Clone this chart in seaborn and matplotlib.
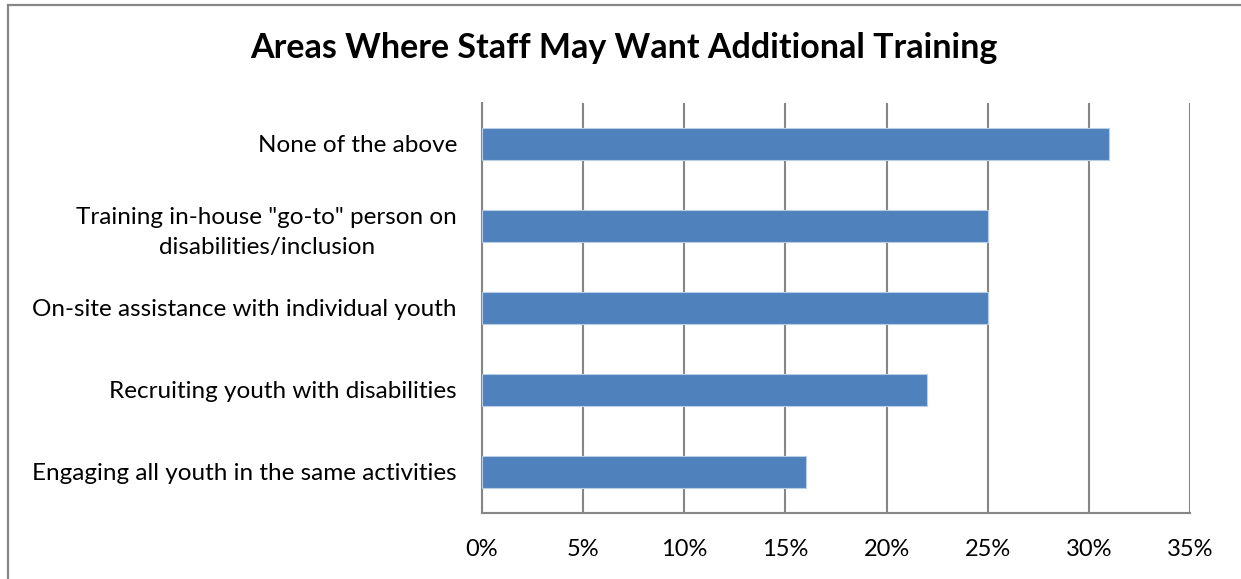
import matplotlib
matplotlib.use("Agg")
import matplotlib.pyplot as plt
import matplotlib.patches as mpatches
from matplotlib.ticker import FuncFormatter
import seaborn as sns
import pandas as pd

categories = [
    "None of the above",
    "Training in-house \"go-to\" person on\ndisabilities/inclusion",
    "On-site assistance with individual youth",
    "Recruiting youth with disabilities",
    "Engaging all youth in the same activities",
]
shares = [31, 25, 25, 22, 16]
x_ticks = [0, 5, 10, 15, 20, 25, 30, 35]
title = "Areas Where Staff May Want Additional Training"

sns.set_theme(style="white")
plt.rcParams["font.family"] = ["Lato", "DejaVu Sans"]

df = pd.DataFrame({"area": categories, "share": shares})

fig = plt.figure(figsize=(12.41, 5.79), dpi=100)
ax = fig.add_axes([482 / 1241, 1 - 513 / 579, (1190 - 482) / 1241, (513 - 103) / 579])

grid_col = "#868686"
sns.barplot(data=df, x="share", y="area", orient="h", color="#4F81BD",
            saturation=1, width=0.39, edgecolor="#B9CDE5", linewidth=0.8, ax=ax, zorder=3)

ax.set_xlim(0, 35)
ax.set_xticks(x_ticks)
ax.xaxis.set_major_formatter(FuncFormatter(lambda v, p: f"{v:.0f}%"))
ax.grid(axis="x", color=grid_col, linewidth=1.5, zorder=0)
ax.set_xlabel("")
ax.set_ylabel("")
for side in ["top", "right"]:
    ax.spines[side].set_visible(False)
for side in ["left", "bottom"]:
    ax.spines[side].set_color(grid_col)
    ax.spines[side].set_linewidth(1.5)
ax.tick_params(axis="both", length=0, colors="#000000")
ax.tick_params(axis="x", labelsize=17, pad=19)
ax.tick_params(axis="y", labelsize=17.5, pad=18)
for lab in ax.get_yticklabels():
    lab.set_multialignment("center")
    lab.set_linespacing(1.55)

fig.text(624 / 1241, 1 - 48 / 579, title, ha="center", va="center",
         fontsize=24.5, fontweight="bold", color="#000000")

border = mpatches.Rectangle((8 / 1241, -0.1), 1.2, 1.1 - 5 / 579, transform=fig.transFigure,
                            fill=False, edgecolor=grid_col, linewidth=1.6, clip_on=False)
fig.patches.append(border)

fig.savefig("out.png", dpi=100)
